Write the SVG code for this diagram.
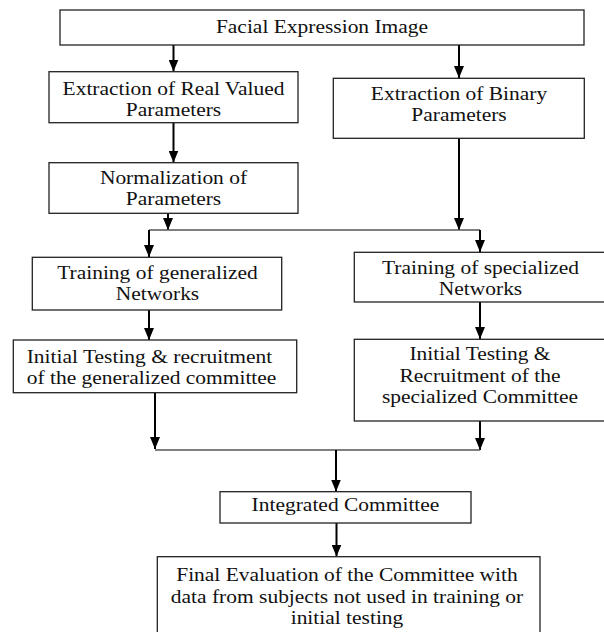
<svg xmlns="http://www.w3.org/2000/svg" width="604" height="632" viewBox="0 0 604 632">
<style>
.box{fill:#fff;stroke:#222;stroke-width:1.3}
.t{font-family:"Liberation Serif","Times New Roman",serif;font-size:19px;fill:#111;text-anchor:middle}
.ts{text-anchor:start}
.c{fill:none;stroke:#000;stroke-width:2}
.h{fill:none;stroke:#555;stroke-width:1.3}
</style>
<defs>
<marker id="ah" viewBox="0 0 12 10" refX="12" refY="5" markerWidth="12" markerHeight="10" markerUnits="userSpaceOnUse" orient="auto">
<path d="M0,0 L12,5 L0,10 z" fill="#000"/>
</marker>
</defs>
<rect width="604" height="632" fill="#fff"/>
<g id="connectors">
<line class="c" x1="173.5" y1="45" x2="173.5" y2="71.5" marker-end="url(#ah)"/>
<line class="c" x1="459" y1="45" x2="459" y2="78" marker-end="url(#ah)"/>
<line class="c" x1="173.5" y1="122.7" x2="173.5" y2="162.5" marker-end="url(#ah)"/>
<line class="c" x1="168" y1="213.3" x2="168" y2="230" marker-end="url(#ah)"/>
<line class="c" x1="459" y1="138.3" x2="459" y2="230" marker-end="url(#ah)"/>
<polyline class="h" points="149,230 480,230"/>
<line class="c" x1="149" y1="230" x2="149" y2="257" marker-end="url(#ah)"/>
<line class="c" x1="480" y1="230" x2="480" y2="252" marker-end="url(#ah)"/>
<line class="c" x1="149" y1="310" x2="149" y2="340" marker-end="url(#ah)"/>
<line class="c" x1="480" y1="302" x2="480" y2="339" marker-end="url(#ah)"/>
<line class="c" x1="155" y1="392.7" x2="155" y2="449" marker-end="url(#ah)"/>
<line class="c" x1="480" y1="421" x2="480" y2="450" marker-end="url(#ah)"/>
<polyline class="h" points="155,450 480,450"/>
<line class="c" x1="336" y1="450" x2="336" y2="491.5" marker-end="url(#ah)"/>
<line class="c" x1="336.5" y1="523" x2="336.5" y2="556.5" marker-end="url(#ah)"/>
</g>
<g id="n-facial">
<rect class="box" x="60" y="10" width="524" height="35"/>
<text class="t" x="322" y="33" transform="matrix(1.13 0 0 1 -41.86 0)">Facial Expression Image</text>
</g>
<g id="n-real">
<rect class="box" x="49" y="71.7" width="249" height="51"/>
<text class="t" x="173.5" y="95.5" transform="matrix(1.13 0 0 1 -22.555 0)">Extraction of Real Valued</text>
<text class="t" x="173.5" y="116.5" transform="matrix(1.13 0 0 1 -22.555 0)">Parameters</text>
</g>
<g id="n-binary">
<rect class="box" x="333.3" y="78.3" width="251" height="60"/>
<text class="t" x="459" y="100" transform="matrix(1.13 0 0 1 -59.67 0)">Extraction of Binary</text>
<text class="t" x="459" y="121" transform="matrix(1.13 0 0 1 -59.67 0)">Parameters</text>
</g>
<g id="n-norm">
<rect class="box" x="49" y="162.7" width="249" height="50.6"/>
<text class="t" x="173.5" y="184" transform="matrix(1.13 0 0 1 -22.555 0)">Normalization of</text>
<text class="t" x="173.5" y="205" transform="matrix(1.13 0 0 1 -22.555 0)">Parameters</text>
</g>
<g id="n-train-gen">
<rect class="box" x="32.3" y="257.3" width="249.4" height="52.7"/>
<text class="t" x="157.5" y="279.5" transform="matrix(1.13 0 0 1 -20.475 0)">Training of generalized</text>
<text class="t" x="157.5" y="300.5" transform="matrix(1.13 0 0 1 -20.475 0)">Networks</text>
</g>
<g id="n-train-spec">
<rect class="box" x="354.3" y="252.3" width="260" height="49.7"/>
<text class="t" x="480.5" y="274.5" transform="matrix(1.13 0 0 1 -62.465 0)">Training of specialized</text>
<text class="t" x="480.5" y="295.5" transform="matrix(1.13 0 0 1 -62.465 0)">Networks</text>
</g>
<g id="n-init-gen">
<rect class="box" x="13.3" y="340" width="283.4" height="52.7"/>
<text class="t ts" x="26.7" y="362.8" transform="matrix(1.13 0 0 1 -3.471 0)">Initial Testing &amp; recruitment</text>
<text class="t ts" x="26.7" y="383.8" transform="matrix(1.13 0 0 1 -3.471 0)">of the generalized committee</text>
</g>
<g id="n-init-spec">
<rect class="box" x="354.3" y="339.3" width="260" height="81.7"/>
<text class="t" x="480" y="360.5" transform="matrix(1.13 0 0 1 -62.4 0)">Initial Testing &amp;</text>
<text class="t" x="480" y="382" transform="matrix(1.13 0 0 1 -62.4 0)">Recruitment of the</text>
<text class="t" x="480" y="403.5" transform="matrix(1.13 0 0 1 -62.4 0)">specialized Committee</text>
</g>
<g id="n-integrated">
<rect class="box" x="220" y="491.7" width="251" height="31.3"/>
<text class="t" x="345.5" y="511" transform="matrix(1.13 0 0 1 -44.915 0)">Integrated Committee</text>
</g>
<g id="n-final">
<rect class="box" x="157.3" y="556.7" width="382.7" height="90"/>
<text class="t" x="347" y="581.5" transform="matrix(1.13 0 0 1 -45.11 0)">Final Evaluation of the Committee with</text>
<text class="t" x="347" y="603" transform="matrix(1.13 0 0 1 -45.11 0)">data from subjects not used in training or</text>
<text class="t" x="347" y="624.5" transform="matrix(1.13 0 0 1 -45.11 0)">initial testing</text>
</g>
</svg>
